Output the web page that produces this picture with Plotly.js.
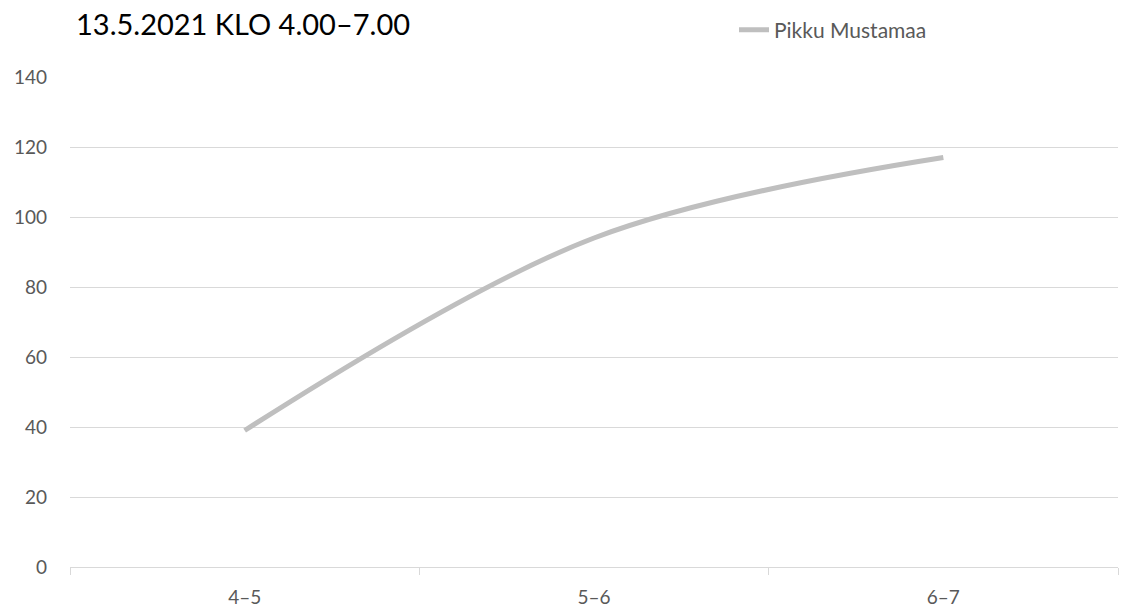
<!DOCTYPE html>
<html>
<head>
<meta charset="utf-8">
<script src="https://cdn.plot.ly/plotly-3.0.1.min.js"></script>
<style>html,body{margin:0;padding:0;background:#fff}#chart{width:1121px;height:610px}</style>
</head>
<body>
<div id="chart"></div>
<script>
const categories = ["4–5", "5–6", "6–7"];
const seriesName = "Pikku Mustamaa";
const values = [39, 94, 117];
const yTicks = [0, 20, 40, 60, 80, 100, 120, 140];

const trace = {
  x: categories,
  y: values,
  type: "scatter",
  mode: "lines",
  name: seriesName,
  line: {color: "#bfbfbf", width: 5, shape: "spline", smoothing: 1}
};

const layout = {
  width: 1121,
  height: 610,
  margin: {l: 70, r: 3, t: 77, b: 43},
  paper_bgcolor: "#ffffff",
  plot_bgcolor: "#ffffff",
  font: {family: "Lato, Open Sans, sans-serif", color: "#595959", size: 18},
  title: {
    text: "13.5.2021 KLO 4.00–7.00",
    x: 0, xref: "paper", xanchor: "left",
    y: 1 - 25/610, yref: "container", yanchor: "middle",
    font: {family: "Lato, sans-serif", size: 29, color: "#000000"},
    pad: {l: 6}
  },
  showlegend: true,
  legend: {
    x: 1 - (1121 - 734 - 3) / 1048, xanchor: "left",
    y: 1 + 47/490, yanchor: "middle",
    orientation: "h",
    font: {family: "Lato, sans-serif", size: 21, color: "#595959"},
    bgcolor: "rgba(0,0,0,0)"
  },
  xaxis: {
    type: "category",
    range: [-0.5, 2.5],
    tickson: "boundaries",
    ticks: "outside",
    ticklen: 7,
    tickcolor: "#d9d9d9",
    showline: true,
    linecolor: "#d9d9d9",
    linewidth: 1,
    showgrid: false,
    zeroline: false,
    tickfont: {family: "Lato, sans-serif", size: 19, color: "#595959"},
    ticklabelstandoff: 13
  },
  yaxis: {
    range: [0, 140],
    tickvals: yTicks,
    ticktext: yTicks.map(String),
    showgrid: true,
    gridcolor: "#d9d9d9",
    gridwidth: 1,
    zeroline: false,
    showline: false,
    ticks: "",
    tickfont: {family: "Lato, sans-serif", size: 19, color: "#595959"},
    ticklabelstandoff: 22
  }
};

Plotly.newPlot("chart", [trace], layout, {displayModeBar: false, staticPlot: true});
</script>
</body>
</html>
